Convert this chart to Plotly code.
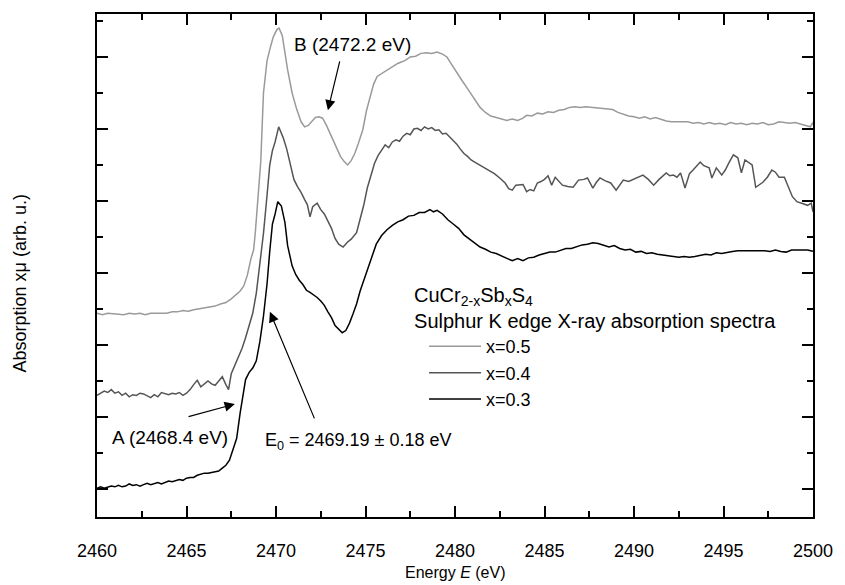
import plotly.graph_objects as go

# ---- data (energy in eV, absorption in arbitrary units, curves offset vertically) ----
E_x03 = [2460.0, 2460.2, 2460.4, 2460.6, 2460.8, 2461.0, 2461.2, 2461.4, 2461.6, 2461.8,
         2462.0, 2462.2, 2462.4, 2462.6, 2462.8, 2463.0, 2463.2, 2463.4, 2463.6, 2463.8,
         2464.0, 2464.2, 2464.4, 2464.6, 2464.8, 2465.0, 2465.2, 2465.4, 2465.6, 2465.8,
         2466.0, 2466.2, 2466.4, 2466.6, 2466.8, 2467.0, 2467.2, 2467.4, 2467.6, 2467.8,
         2468.0, 2468.15, 2468.3, 2468.5, 2468.7, 2468.9, 2469.1, 2469.3, 2469.5, 2469.65,
         2469.8, 2469.95, 2470.1, 2470.3, 2470.5, 2470.65, 2470.9, 2471.1, 2471.3, 2471.5,
         2471.7, 2471.9, 2472.1, 2472.3, 2472.5, 2472.7, 2472.9, 2473.1, 2473.3, 2473.5,
         2473.7, 2473.9, 2474.1, 2474.3, 2474.5, 2474.7, 2474.9, 2475.1, 2475.3, 2475.6,
         2475.9, 2476.2, 2476.5, 2476.8, 2477.1, 2477.4, 2477.7, 2478.0, 2478.3, 2478.6,
         2478.8, 2479.0, 2479.3, 2479.6, 2479.9, 2480.2, 2480.5, 2480.8, 2481.1, 2481.4,
         2481.7, 2482.0, 2482.3, 2482.6, 2482.9, 2483.2, 2483.5, 2483.8, 2484.1, 2484.4,
         2484.7, 2485.0, 2485.3, 2485.6, 2485.9, 2486.2, 2486.5, 2486.8, 2487.1, 2487.4,
         2487.7, 2488.0, 2488.3, 2488.6, 2488.9, 2489.2, 2489.5, 2489.8, 2490.1, 2490.4,
         2490.7, 2491.0, 2491.3, 2491.6, 2491.9, 2492.2, 2492.5, 2492.8, 2493.1, 2493.4,
         2493.7, 2494.0, 2494.3, 2494.6, 2494.9, 2495.2, 2495.5, 2495.8, 2496.1, 2496.4,
         2496.7, 2497.0, 2497.3, 2497.6, 2497.9, 2498.2, 2498.5, 2498.8, 2499.1, 2499.4,
         2499.7, 2500.0]
A_x03 = [0.01, 0.03, 0.01, 0.02, 0.04, 0.03, 0.05, 0.03, 0.04, 0.07,
         0.05, 0.06, 0.04, 0.06, 0.08, 0.06, 0.07, 0.09, 0.07, 0.09,
         0.11, 0.10, 0.12, 0.13, 0.12, 0.15, 0.16, 0.16, 0.19, 0.21,
         0.22, 0.22, 0.23, 0.23, 0.25, 0.29, 0.33, 0.40, 0.54, 0.70,
         1.06, 1.32, 1.52, 1.62, 1.68, 1.78, 2.05, 2.40, 2.85, 3.30,
         3.68, 3.82, 3.99, 3.93, 3.70, 3.38, 3.10, 2.98, 2.90, 2.84,
         2.76, 2.73, 2.70, 2.66, 2.61, 2.55, 2.46, 2.38, 2.27, 2.22,
         2.17, 2.20, 2.30, 2.43, 2.57, 2.75, 2.90, 3.04, 3.20, 3.40,
         3.52, 3.60, 3.66, 3.71, 3.74, 3.79, 3.80, 3.84, 3.84, 3.88,
         3.85, 3.87, 3.82, 3.74, 3.68, 3.62, 3.53, 3.47, 3.41, 3.36,
         3.33, 3.29, 3.27, 3.24, 3.21, 3.17, 3.20, 3.17, 3.21, 3.22,
         3.25, 3.27, 3.29, 3.29, 3.31, 3.34, 3.34, 3.37, 3.39, 3.40,
         3.42, 3.41, 3.39, 3.36, 3.38, 3.34, 3.32, 3.33, 3.29, 3.30,
         3.27, 3.28, 3.26, 3.25, 3.24, 3.22, 3.22, 3.23, 3.22, 3.23,
         3.25, 3.26, 3.25, 3.28, 3.27, 3.29, 3.30, 3.31, 3.31, 3.32,
         3.31, 3.32, 3.31, 3.30, 3.32, 3.30, 3.29, 3.32, 3.32, 3.31,
         3.32, 3.30]

E_x04 = [2460.0, 2460.2, 2460.4, 2460.6, 2460.8, 2461.0, 2461.2, 2461.4, 2461.6, 2461.8,
         2462.0, 2462.2, 2462.4, 2462.6, 2462.8, 2463.0, 2463.2, 2463.4, 2463.6, 2463.8,
         2464.0, 2464.2, 2464.4, 2464.6, 2464.8, 2465.0, 2465.2, 2465.4, 2465.6, 2465.8,
         2466.0, 2466.2, 2466.4, 2466.6, 2466.8, 2467.0, 2467.2, 2467.35, 2467.5, 2467.7,
         2467.9, 2468.1, 2468.3, 2468.5, 2468.7, 2468.9, 2469.1, 2469.3, 2469.5, 2469.65,
         2469.8, 2469.95, 2470.15, 2470.4, 2470.6, 2470.8, 2471.0, 2471.2, 2471.4, 2471.6,
         2471.75, 2471.9, 2472.05, 2472.3, 2472.5, 2472.7, 2472.9, 2473.1, 2473.3, 2473.5,
         2473.75, 2474.0, 2474.2, 2474.5, 2474.7, 2474.9, 2475.1, 2475.3, 2475.5, 2475.7,
         2475.9, 2476.1, 2476.3, 2476.5, 2476.7, 2476.9, 2477.1, 2477.3, 2477.5, 2477.7,
         2477.9, 2478.1, 2478.3, 2478.5, 2478.7, 2478.9, 2479.1, 2479.3, 2479.5, 2479.7,
         2479.9, 2480.1, 2480.3, 2480.5, 2480.7, 2480.9, 2481.1, 2481.3, 2481.6, 2481.9,
         2482.2, 2482.5, 2482.8, 2483.0, 2483.2, 2483.4, 2483.6, 2483.8, 2484.0, 2484.2,
         2484.4, 2484.6, 2484.8, 2485.0, 2485.2, 2485.4, 2485.6, 2485.8, 2486.0, 2486.3,
         2486.6, 2486.9, 2487.2, 2487.4, 2487.7, 2487.9, 2488.1, 2488.4, 2488.7, 2489.0,
         2489.2, 2489.4, 2489.7, 2490.0, 2490.3, 2490.5, 2490.8, 2491.1, 2491.4, 2491.8,
         2492.0, 2492.2, 2492.4, 2492.6, 2492.85, 2493.1, 2493.3, 2493.7, 2493.9, 2494.2,
         2494.35, 2494.6, 2494.9, 2495.1, 2495.3, 2495.55, 2495.8, 2496.0, 2496.2, 2496.45,
         2496.6, 2496.8, 2497.0, 2497.2, 2497.45, 2497.7, 2497.9, 2498.1, 2498.4, 2498.6,
         2498.85, 2499.1, 2499.3, 2499.5, 2499.7, 2499.9, 2500.0]
A_x04 = [1.30, 1.33, 1.36, 1.34, 1.38, 1.33, 1.35, 1.30, 1.33, 1.28,
         1.31, 1.30, 1.33, 1.32, 1.29, 1.27, 1.31, 1.28, 1.34, 1.32,
         1.31, 1.33, 1.32, 1.34, 1.30, 1.33, 1.38, 1.45, 1.51, 1.42,
         1.46, 1.50, 1.46, 1.44, 1.50, 1.56, 1.45, 1.38, 1.60, 1.72,
         1.83, 1.95, 2.10, 2.27, 2.44, 2.72, 3.12, 3.55, 4.08, 4.50,
         4.70, 4.82, 5.03, 4.88, 4.72, 4.50, 4.30, 4.20, 4.12, 4.02,
         3.95, 3.78, 3.92, 3.97, 3.88, 3.82, 3.72, 3.62, 3.48, 3.40,
         3.36, 3.43, 3.47, 3.56, 3.75, 3.94, 4.18, 4.36, 4.52, 4.63,
         4.70, 4.78, 4.74, 4.82, 4.85, 4.83, 4.90, 4.94, 4.92, 5.00,
         5.01, 4.98, 5.03, 5.00, 5.02, 4.98, 4.99, 4.93, 4.94, 4.89,
         4.84, 4.79, 4.72, 4.66, 4.62, 4.57, 4.54, 4.51, 4.47, 4.43,
         4.38, 4.32, 4.25, 4.17, 4.15, 4.22, 4.22, 4.23, 4.13, 4.16,
         4.14, 4.25, 4.27, 4.30, 4.35, 4.22, 4.33, 4.28, 4.22, 4.20,
         4.19, 4.29, 4.30, 4.32, 4.18, 4.26, 4.32, 4.28, 4.25, 4.15,
         4.22, 4.29, 4.27, 4.30, 4.33, 4.36, 4.30, 4.22, 4.30, 4.39,
         4.35, 4.36, 4.33, 4.39, 4.18, 4.38, 4.43, 4.54, 4.49, 4.46,
         4.32, 4.46, 4.36, 4.43, 4.53, 4.64, 4.60, 4.39, 4.57, 4.52,
         4.50, 4.19, 4.22, 4.26, 4.33, 4.43, 4.40, 4.33, 4.33, 4.20,
         4.06, 3.99, 3.97, 3.95, 3.94, 3.97, 3.85]

E_x05 = [2460.0, 2460.3, 2460.6, 2460.9, 2461.2, 2461.5, 2461.8, 2462.1, 2462.4, 2462.7,
         2463.0, 2463.3, 2463.6, 2463.9, 2464.2, 2464.5, 2464.8, 2465.1, 2465.4, 2465.7,
         2466.0, 2466.3, 2466.6, 2466.9, 2467.2, 2467.5, 2467.8, 2468.0, 2468.2, 2468.4,
         2468.6, 2468.75, 2468.85, 2469.0, 2469.15, 2469.3, 2469.5, 2469.7, 2469.85, 2470.05,
         2470.17, 2470.35, 2470.5, 2470.65, 2470.9, 2471.15, 2471.4, 2471.6, 2471.8, 2472.0,
         2472.2, 2472.4, 2472.6, 2472.8, 2473.0, 2473.2, 2473.4, 2473.6, 2473.8, 2474.0,
         2474.2, 2474.4, 2474.6, 2474.85, 2475.05, 2475.25, 2475.45, 2475.65, 2475.9, 2476.1,
         2476.3, 2476.5, 2476.8, 2477.0, 2477.2, 2477.5, 2477.8, 2478.1, 2478.4, 2478.7,
         2479.0, 2479.3, 2479.55, 2479.8, 2480.1, 2480.4, 2480.7, 2480.9, 2481.2, 2481.4,
         2481.7, 2482.0, 2482.3, 2482.6, 2482.9, 2483.2, 2483.5, 2483.8, 2484.0, 2484.3,
         2484.6, 2484.9, 2485.2, 2485.5, 2485.8, 2486.1, 2486.4, 2486.7, 2487.0, 2487.3,
         2487.6, 2487.9, 2488.2, 2488.5, 2488.8, 2489.1, 2489.4, 2489.7, 2490.0, 2490.3,
         2490.6, 2490.9, 2491.2, 2491.5, 2491.8, 2492.1, 2492.4, 2492.7, 2493.0, 2493.3,
         2493.6, 2493.9, 2494.2, 2494.5, 2494.8, 2495.1, 2495.4, 2495.7, 2496.0, 2496.3,
         2496.6, 2496.9, 2497.2, 2497.5, 2497.8, 2498.1, 2498.4, 2498.7, 2499.0, 2499.3,
         2499.6, 2499.85, 2500.0]
A_x05 = [2.44, 2.42, 2.44, 2.43, 2.42, 2.42, 2.44, 2.43, 2.44, 2.42,
         2.44, 2.44, 2.45, 2.44, 2.46, 2.46, 2.48, 2.47, 2.49, 2.50,
         2.51, 2.53, 2.54, 2.57, 2.59, 2.64, 2.70, 2.75, 2.82, 2.97,
         3.20, 3.32, 3.58, 4.05, 4.55, 5.50, 5.95, 6.15, 6.28, 6.38,
         6.40, 6.30, 6.05, 5.82, 5.50, 5.28, 5.10, 5.03, 5.05, 5.10,
         5.16, 5.17, 5.15, 5.06, 4.95, 4.84, 4.72, 4.62, 4.55, 4.50,
         4.56, 4.66, 4.80, 4.99, 5.25, 5.45, 5.62, 5.73, 5.77, 5.80,
         5.84, 5.86, 5.91, 5.93, 5.95, 6.00, 6.01, 6.05, 6.06, 6.05,
         6.07, 6.04, 6.00, 5.90, 5.78, 5.67, 5.56, 5.49, 5.38, 5.30,
         5.23, 5.18, 5.16, 5.14, 5.12, 5.14, 5.12, 5.15, 5.19, 5.18,
         5.22, 5.21, 5.24, 5.23, 5.26, 5.27, 5.30, 5.31, 5.30, 5.31,
         5.30, 5.29, 5.29, 5.28, 5.27, 5.23, 5.20, 5.18, 5.17, 5.15,
         5.17, 5.14, 5.16, 5.13, 5.11, 5.10, 5.10, 5.09, 5.10, 5.08,
         5.09, 5.07, 5.09, 5.07, 5.08, 5.06, 5.09, 5.07, 5.08, 5.06,
         5.08, 5.07, 5.09, 5.06, 5.07, 5.10, 5.09, 5.08, 5.09, 5.07,
         5.05, 5.03, 5.09]

series_names = ["x=0.5", "x=0.4", "x=0.3"]
series_colors = ["#9a9a9a", "#555555", "#000000"]

x_tickvals = [2460, 2465, 2470, 2475, 2480, 2485, 2490, 2495, 2500]
x_ticktext = ["2460", "2465", "2470", "2475", "2480", "2485", "2490", "2495", "2500"]

FONT = "Liberation Sans, Arial, sans-serif"

fig = go.Figure()
for name, color, xs, ys in zip(series_names, series_colors,
                               [E_x05, E_x04, E_x03], [A_x05, A_x04, A_x03]):
    fig.add_trace(go.Scatter(x=xs, y=ys, mode="lines", name=name,
                             line=dict(color=color, width=1.5)))

axis_common = dict(showline=True, linecolor="#000000", linewidth=2, mirror="ticks",
                   ticks="inside", tickcolor="#000000", tickwidth=2, ticklen=11,
                   showgrid=False, zeroline=False, layer="above traces")

fig.update_xaxes(range=[2460, 2500], tickvals=x_tickvals, ticktext=x_ticktext,
                 minor=dict(dtick=2.5, tick0=2460, ticks="inside", ticklen=6,
                            tickwidth=2, tickcolor="#000000", showgrid=False),
                 tickfont=dict(family=FONT, size=18, color="black"),
                 ticklabelstandoff=16,
                 **axis_common)
fig.update_yaxes(range=[-0.389, 6.597], dtick=1, tick0=0, showticklabels=False,
                 minor=dict(dtick=0.5, tick0=0, ticks="inside", ticklen=6,
                            tickwidth=2, tickcolor="#000000", showgrid=False),
                 **axis_common)

arrow = dict(showarrow=True, arrowhead=2, arrowsize=1.7, arrowwidth=1.2,
             arrowcolor="black", axref="x", ayref="y", text="")
# arrows: (head x, head y, tail x, tail y)
fig.add_annotation(x=2472.9, y=5.26, ax=2473.58, ay=5.96, **arrow)
fig.add_annotation(x=2467.7, y=1.18, ax=2465.03, ay=1.00, **arrow)
fig.add_annotation(x=2469.66, y=2.46, ax=2472.18, ay=0.96, **arrow)

fig.add_annotation(x=2474.25, y=6.18, text="B (2472.2 eV)", showarrow=False,
                   font=dict(family=FONT, size=19, color="black"))
fig.add_annotation(x=2464.08, y=0.72, text="A (2468.4 eV)", showarrow=False,
                   font=dict(family=FONT, size=19, color="black"))
fig.add_annotation(x=2469.3, y=0.66, xanchor="left", text="E<sub>0</sub> = 2469.19 ± 0.18 eV",
                   showarrow=False, font=dict(family=FONT, size=18, color="black"))
# axis titles
fig.add_annotation(xref="paper", yref="paper", x=-0.107, y=0.465, xanchor="center",
                   yanchor="middle", textangle=-90,
                   text="Absorption xμ (arb. u.)", showarrow=False,
                   font=dict(family=FONT, size=18, color="black"))
fig.add_annotation(xref="paper", yref="paper", x=0.5, y=-0.11, yanchor="middle",
                   text="Energy <i>E</i> (eV)", showarrow=False,
                   font=dict(family=FONT, size=16, color="black"))

fig.update_layout(
    template="simple_white",
    width=845, height=585,
    margin=dict(l=97, r=30, t=14, b=68),
    paper_bgcolor="white", plot_bgcolor="white",
    showlegend=True,
    legend=dict(x=0.44, y=0.479, xanchor="left", yanchor="top",
                bgcolor="rgba(0,0,0,0)", borderwidth=0,
                font=dict(family=FONT, size=18, color="black"),
                title=dict(text="CuCr<sub>2-x</sub>Sb<sub>x</sub>S<sub>4</sub><br>Sulphur K edge X-ray absorption spectra",
                           font=dict(family=FONT, size=20, color="black")),
                tracegroupgap=0, itemwidth=52, indentation=12),
)

fig.write_html("out.html", config={"displayModeBar": False},
               post_script="document.body.style.margin='0px';")
